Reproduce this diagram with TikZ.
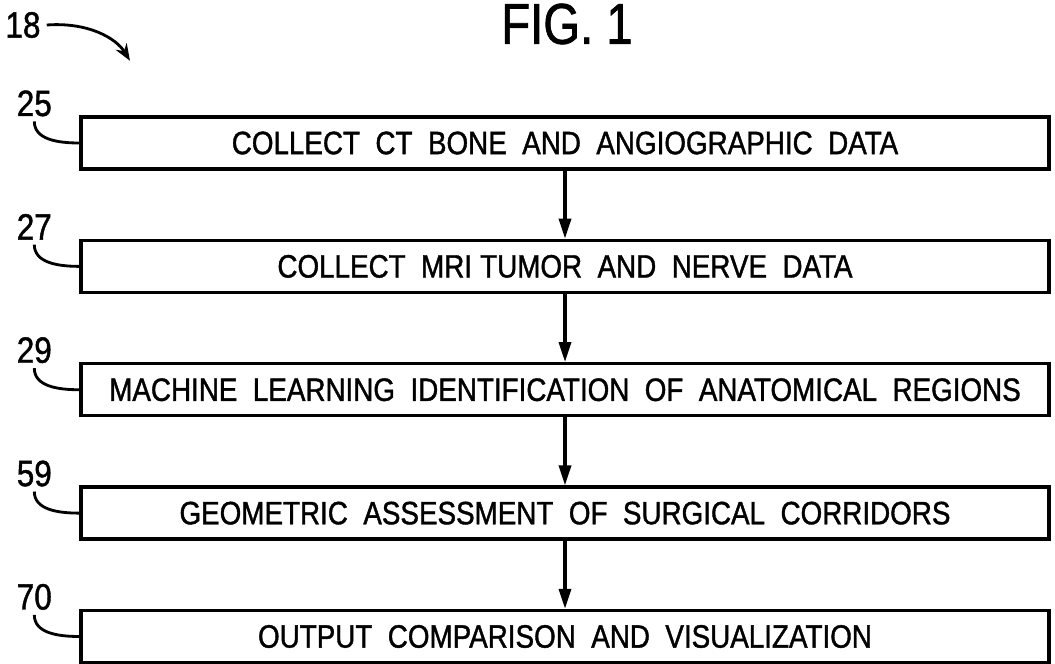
\documentclass[tikz,border=0pt]{standalone}
\usepackage{fontspec}
\newfontfamily\patfont[FakeStretch=0.86, WordSpace=2.0, FakeBold=1.2]{Liberation Sans}
\newfontfamily\figfont[FakeStretch=0.82, FakeBold=1.2]{Liberation Sans}
\usetikzlibrary{arrows.meta, positioning, calc}

\begin{document}
\begin{tikzpicture}[
      stepbox/.style={rectangle, draw, line width=2.4pt, minimum width=24.2cm, minimum height=1.3cm,
                   inner sep=0pt, font=\patfont\fontsize{23}{25}\selectfont},
      refnum/.style={inner sep=0pt, font=\patfont\fontsize{26}{28}\selectfont},
      lead/.style={line width=2pt},
      flow/.style={line width=2.4pt, -{Triangle[length=0.5cm, width=0.3cm]}},
      node distance=1.7cm
    ]
    \useasboundingbox (0,0) rectangle (26.375,-16.6);

    % Titel
    \node[inner sep=0pt, font=\figfont\fontsize{41}{44}\selectfont] (fig) at (14.175,-0.6) {FIG. 1};

    % Bezugszeichen 18
    \node[refnum] (n18) at (0.575,-0.625) {18};
    \coordinate (tip) at (3.25,-1.52);
    \draw[lead, -{Stealth[length=0.42cm, width=0.32cm]}] ([xshift=0.15cm]n18.east) .. controls (2.2,-0.55) and (2.9,-0.95) .. (tip);

    % Verfahrensschritte
    \node[stepbox] at (14.125,-3.575) (s1) {COLLECT  CT  BONE  AND  ANGIOGRAPHIC  DATA};
    \node[stepbox, below=of s1] (s2) {COLLECT  MRI\hspace{0.25em}TUMOR  AND  NERVE  DATA};
    \node[stepbox, below=of s2] (s3) {MACHINE  LEARNING  IDENTIFICATION  OF  ANATOMICAL  REGIONS};
    \node[stepbox, below=of s3] (s4) {GEOMETRIC  ASSESSMENT  OF  SURGICAL  CORRIDORS};
    \node[stepbox, below=of s4] (s5) {OUTPUT  COMPARISON  AND  VISUALIZATION};

    % Pfeile zwischen den Schritten
    \draw[flow] (s1) -- (s2);
    \draw[flow] (s2) -- (s3);
    \draw[flow] (s3) -- (s4);
    \draw[flow] (s4) -- (s5);

    % Bezugszeichen mit Fuehrungslinien
    \node[refnum, above left=0.99cm and 1.125cm of s1.west, anchor=center] (r25) {25};
    \node[refnum, above left=0.99cm and 1.125cm of s2.west, anchor=center] (r27) {27};
    \node[refnum, above left=0.99cm and 1.125cm of s3.west, anchor=center] (r29) {29};
    \node[refnum, above left=0.99cm and 1.125cm of s4.west, anchor=center] (r59) {59};
    \node[refnum, above left=0.99cm and 1.125cm of s5.west, anchor=center] (r70) {70};
    \draw[lead] ([yshift=-0.12cm]r25.south) .. controls +(0,-0.45) and +(-0.55,0) .. (s1.west);
    \draw[lead] ([yshift=-0.12cm]r27.south) .. controls +(0,-0.45) and +(-0.55,0) .. (s2.west);
    \draw[lead] ([yshift=-0.12cm]r29.south) .. controls +(0,-0.45) and +(-0.55,0) .. (s3.west);
    \draw[lead] ([yshift=-0.12cm]r59.south) .. controls +(0,-0.45) and +(-0.55,0) .. (s4.west);
    \draw[lead] ([yshift=-0.12cm]r70.south) .. controls +(0,-0.45) and +(-0.55,0) .. (s5.west);

  \end{tikzpicture}
\end{document}
